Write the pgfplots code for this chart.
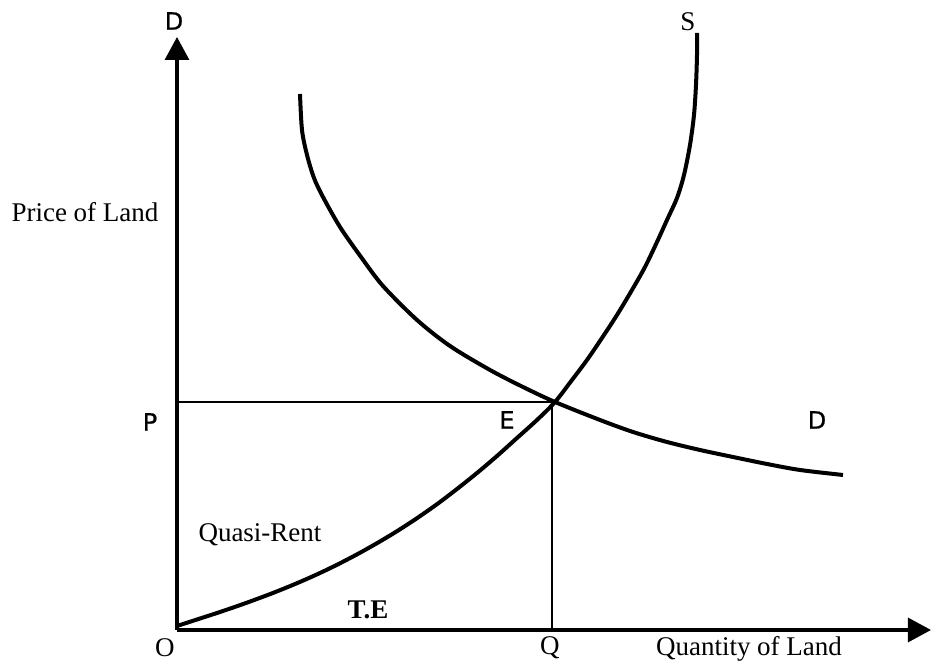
\documentclass[border=0pt]{standalone}
\usepackage{pgfplots}
\pgfplotsset{compat=1.18}
\usetikzlibrary{arrows.meta}
\usepackage{fontspec}
\setmainfont{Liberation Serif}
\newfontfamily\sansf[FakeBold=0.8]{DejaVu Sans}
\begin{document}
\begin{tikzpicture}
\begin{axis}[
  x=0.5pt, y=0.5pt,
  xmin=0, xmax=754, ymin=0, ymax=593,
  axis lines=left,
  axis line style={line width=1.6pt, -{Triangle[width=12pt,length=11.5pt]}},
  xtick=\empty, ytick=\empty,
  clip=false,
]
% supply
\addplot[line width=2pt, smooth] coordinates {
(0,4) (20,10.5) (40,17) (60,23.8) (80,31) (100,38.6) (120,46.8) (140,55.6) (160,65.2) (180,75.6) (200,86.8) (220,98.8) (240,111.8) (260,125.8) (280,141) (300,157) (320,174) (340,192) (360,210) (378,228) (395,250) (410,270) (425,292) (440,315) (455,340) (468,363) (480,388) (490,410) (500,432) (507,455) (513,485) (517,515) (519,545) (520,575) (520,597)};
% demand
\addplot[line width=2pt, smooth] coordinates {
(123,536) (125,500) (130,475) (137,452) (146,433) (163,403) (184,373) (206,344) (240,310) (273,284) (313,260) (346,243) (378,228) (423,210) (456,198) (490,188) (523,180) (556,173) (590,166) (623,160) (666,155)};
% P-E and E-Q lines
\addplot[line width=1.3pt] coordinates {(0,228) (378,228)};
\addplot[line width=1.3pt] coordinates {(375,228) (375,0)};
% labels
\node[font=\sansf\fontsize{12}{14}\selectfont] at (axis cs:-3,609) {D};
\node[font=\fontsize{13.5}{15}\selectfont] at (axis cs:511,608) {S};
\node[font=\fontsize{13.5}{15}\selectfont] at (axis cs:-92,418) {Price of Land};
\node[font=\sansf\fontsize{12}{14}\selectfont] at (axis cs:-27,208) {P};
\node[font=\sansf\fontsize{12}{14}\selectfont] at (axis cs:330,210) {E};
\node[font=\sansf\fontsize{12}{14}\selectfont] at (axis cs:640,210) {D};
\node[font=\fontsize{13.5}{15}\selectfont] at (axis cs:83,95) {Quasi-Rent};
\node[font=\bfseries\fontsize{13.5}{15}\selectfont] at (axis cs:191,20) {T.E};
\node[font=\fontsize{13.5}{15}\selectfont] at (axis cs:-12,-18) {O};
\node[font=\fontsize{13.5}{15}\selectfont] at (axis cs:373,-18) {Q};
\node[font=\fontsize{13.5}{15}\selectfont] at (axis cs:572,-19) {Quantity of Land};
\path (axis cs:-177,-32) rectangle (axis cs:757,630);
\end{axis}
\end{tikzpicture}
\end{document}
